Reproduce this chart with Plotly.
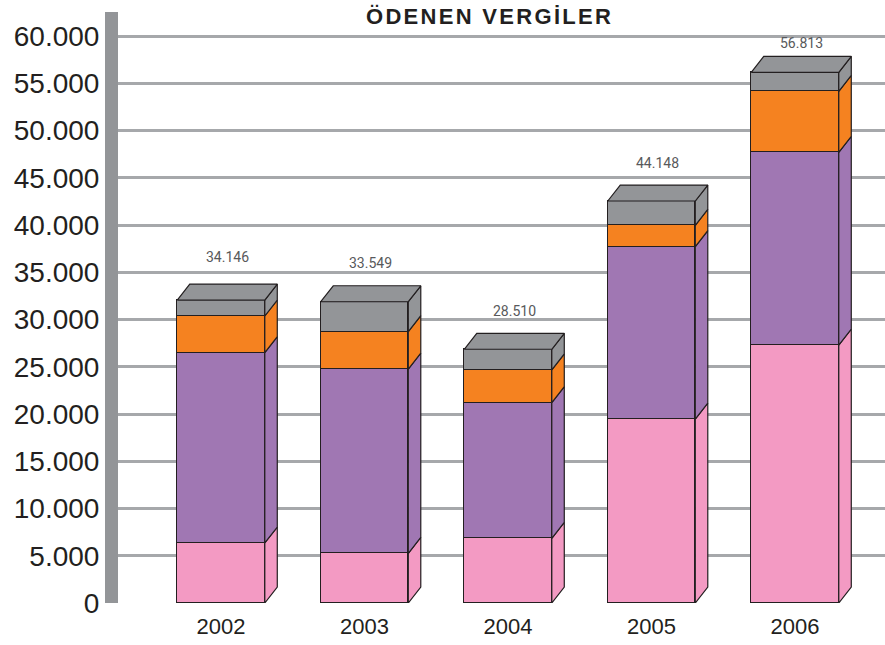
import plotly.graph_objects as go

# ---- data ----
years = ["2002", "2003", "2004", "2005", "2006"]
pink = [6350, 5260, 6850, 19470, 27300]
purple = [20140, 19500, 14350, 18240, 20390]
orange = [3880, 3950, 3460, 2260, 6460]
gray = [1690, 3170, 2190, 2570, 2010]
totals = [34146, 33549, 28510, 44148, 56813]
y_ticks = [0, 5000, 10000, 15000, 20000, 25000, 30000, 35000, 40000, 45000, 50000, 55000, 60000]
title_text = "ÖDENEN VERGİLER"

series = [
    ("pink", pink, "#F39AC3"),
    ("purple", purple, "#A077B3"),
    ("orange", orange, "#F58220"),
    ("gray", gray, "#939598"),
]

# ---- style ----
BAR_W = 0.61
DX = 0.087      # depth in category units
DY = 1690       # depth in value units
EDGE = "#231F20"
EDGE_W = 1.2


def fmt(v):
    return f"{v:,}".replace(",", ".")


xs = list(range(len(years)))
fig = go.Figure()

# front faces
for name, vals, col in series:
    fig.add_trace(go.Bar(
        x=xs, y=vals, width=BAR_W, name=name,
        marker=dict(color=col, line=dict(color=EDGE, width=EDGE_W)),
        hoverinfo="skip", showlegend=False,
    ))

# side faces (3D effect)
bases = [0] * len(years)
for name, vals, col in series:
    px, py = [], []
    for i, v in enumerate(vals):
        r = xs[i] + BAR_W / 2
        b = bases[i]
        t = b + v
        px += [r, r + DX, r + DX, r, r, None]
        py += [b, b + DY, t + DY, t, b, None]
        bases[i] = t
    fig.add_trace(go.Scatter(
        x=px, y=py, mode="lines", fill="toself", fillcolor=col,
        line=dict(color=EDGE, width=EDGE_W), hoverinfo="skip", showlegend=False,
    ))

# top faces
px, py = [], []
for i in xs:
    l = xs[i] - BAR_W / 2
    r = xs[i] + BAR_W / 2
    T = bases[i]
    px += [l, l + DX, r + DX, r, l, None]
    py += [T, T + DY, T + DY, T, T, None]
fig.add_trace(go.Scatter(
    x=px, y=py, mode="lines", fill="toself", fillcolor=series[-1][2],
    line=dict(color=EDGE, width=EDGE_W), hoverinfo="skip", showlegend=False,
))

# total labels
for i, tv in enumerate(totals):
    fig.add_annotation(
        x=xs[i] + DX / 2, y=tv, text=fmt(tv), showarrow=False,
        yshift=23, yanchor="middle",
        font=dict(family="Roboto", size=14, color="#58595B"),
    )

# title
fig.add_annotation(
    xref="paper", yref="paper", x=0.485, y=1, yanchor="middle", yshift=-4,
    text=f'<span style="letter-spacing:2.3px"><b>{title_text}</b></span>',
    showarrow=False,
    font=dict(family="Liberation Sans", size=22, color="#231F20"),
)

fig.update_layout(
    width=885, height=645,
    margin=dict(l=118, r=0, t=12, b=42),
    plot_bgcolor="white", paper_bgcolor="white",
    barmode="stack", bargap=0,
    showlegend=False,
    xaxis=dict(
        range=[-0.718, 4.627], tickmode="array", tickvals=xs, ticktext=years,
        showgrid=False, zeroline=False, showline=False, ticks="",
        ticklabelstandoff=8,
        tickfont=dict(family="Liberation Sans", size=22, color="#231F20"),
        fixedrange=True,
    ),
    yaxis=dict(
        range=[0, 62540], tickmode="array", tickvals=y_ticks,
        ticktext=[fmt(v) for v in y_ticks],
        showgrid=True, gridcolor="#A6A8AB", gridwidth=2.5,
        zeroline=False, showline=True, linecolor="#939598", linewidth=13,
        ticks="",
        tickfont=dict(family="Liberation Sans", size=28, color="#231F20"),
        fixedrange=True,
    ),
)

# remove the default 8px page margin so the figure fills the window exactly
fig.write_html(
    "out.html",
    config={"displayModeBar": False},
    post_script="document.body.style.margin='0px';",
)
